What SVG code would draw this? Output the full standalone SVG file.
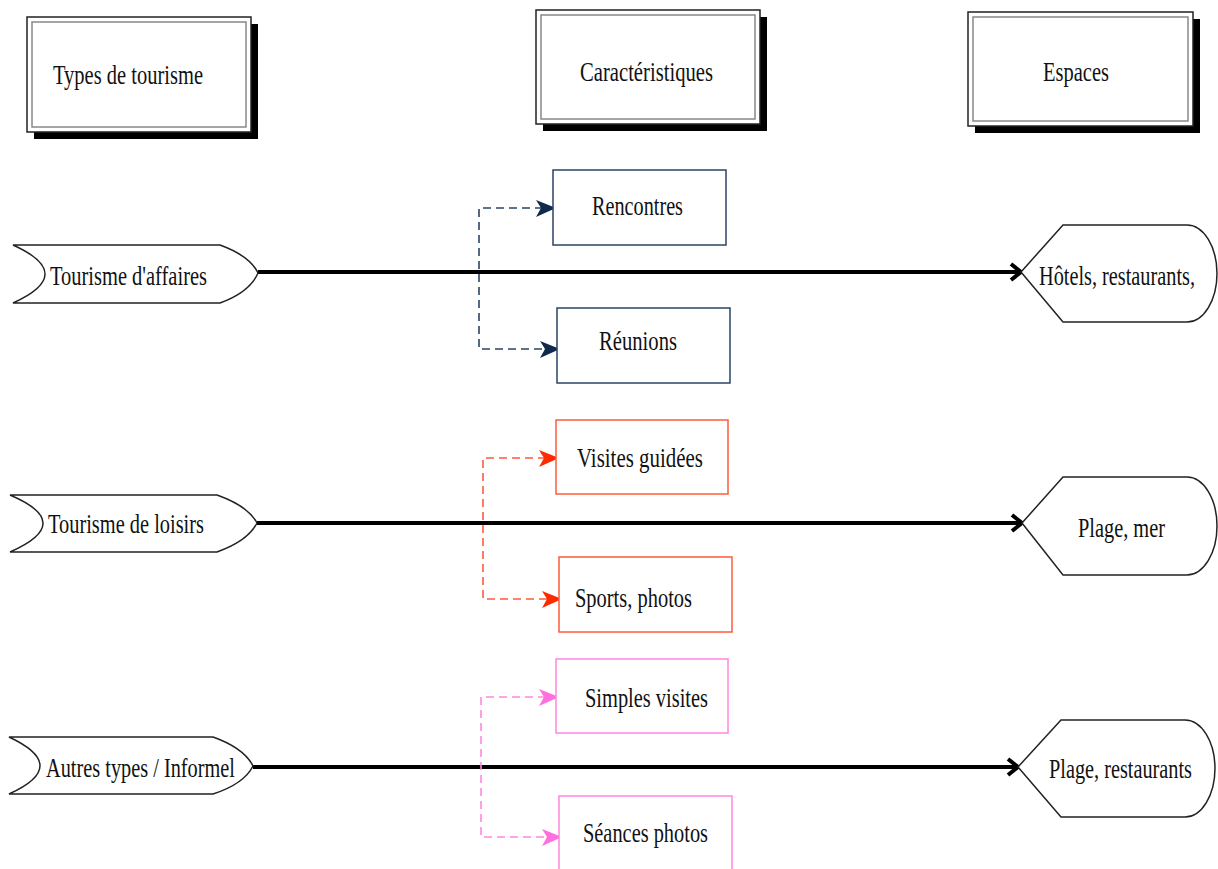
<svg xmlns="http://www.w3.org/2000/svg" width="1218" height="869" viewBox="0 0 1218 869">
<style>
.t{font-family:'Liberation Serif','Times New Roman',serif;font-size:27px;fill:#111}
.shadow{fill:#000}
.outer{fill:#fff;stroke:#222;stroke-width:1.5}
.inner{fill:none;stroke:#888;stroke-width:1.5}
.shape{fill:#fff;stroke:#222;stroke-width:1.5}
.main{stroke:#000;stroke-width:4;fill:none}
.dash{fill:none;stroke-width:1.6;stroke-dasharray:8 5}
.navy{stroke:#2A4566}
.red{stroke:#FF5A3C}
.pink{stroke:#FF88E0}
.box{fill:#fff;stroke-width:1.5}
</style>
<defs>
<marker id="chev" markerUnits="userSpaceOnUse" markerWidth="20" markerHeight="24" refX="12" refY="10" orient="auto" overflow="visible">
<path d="M2,2 L12,10 L2,18" fill="none" stroke="#000" stroke-width="4"/>
</marker>
<marker id="aNavy" markerUnits="userSpaceOnUse" markerWidth="22" markerHeight="18" refX="20" refY="8" orient="auto-start-reverse" overflow="visible">
<path d="M0,0 L20,8 L0,17 L5,8 Z" fill="#0F2A4A"/>
</marker>
<marker id="aRed" markerUnits="userSpaceOnUse" markerWidth="22" markerHeight="18" refX="20" refY="8" orient="auto-start-reverse" overflow="visible">
<path d="M0,0 L20,8 L0,17 L5,8 Z" fill="#FF2A00"/>
</marker>
<marker id="aPink" markerUnits="userSpaceOnUse" markerWidth="22" markerHeight="18" refX="20" refY="8" orient="auto-start-reverse" overflow="visible">
<path d="M0,0 L20,8 L0,17 L5,8 Z" fill="#FF70DC"/>
</marker>
</defs>
<rect width="1218" height="869" fill="#fff"/>

<g id="connectors">
<path class="main" d="M258,272 H1021" marker-end="url(#chev)"/>
<path class="main" d="M257,523 H1022" marker-end="url(#chev)"/>
<path class="main" d="M253,767 H1018" marker-end="url(#chev)"/>
<path class="dash navy" d="M556,208 H479 V349 H560" marker-start="url(#aNavy)" marker-end="url(#aNavy)"/>
<path class="dash red" d="M559,458 H483 V599 H562" marker-start="url(#aRed)" marker-end="url(#aRed)"/>
<path class="dash pink" d="M559,697 H481 V837 H562" marker-start="url(#aPink)" marker-end="url(#aPink)"/>
</g>

<g id="h-types">
<rect class="shadow" x="34" y="24" width="224" height="115"/>
<rect class="outer" x="27" y="17" width="224" height="115"/>
<rect class="inner" x="32" y="22" width="214" height="105"/>
<text class="t" x="53" y="84" textLength="150" lengthAdjust="spacingAndGlyphs">Types de tourisme</text>
</g>
<g id="h-carac">
<rect class="shadow" x="543" y="17" width="224" height="114"/>
<rect class="outer" x="536" y="10" width="224" height="114"/>
<rect class="inner" x="541" y="15" width="214" height="104"/>
<text class="t" x="580" y="81" textLength="133" lengthAdjust="spacingAndGlyphs">Caractéristiques</text>
</g>
<g id="h-espaces">
<rect class="shadow" x="975" y="19" width="225" height="114"/>
<rect class="outer" x="968" y="12" width="225" height="114"/>
<rect class="inner" x="973" y="17" width="215" height="104"/>
<text class="t" x="1043" y="81" textLength="66" lengthAdjust="spacingAndGlyphs">Espaces</text>
</g>

<g id="t-affaires">
<path class="shape" d="M13,245 L220,245 Q250,256 258,273 Q250,292 220,303 L13,303 Q77,274 13,245 Z"/>
<text class="t" x="50" y="285" textLength="157" lengthAdjust="spacingAndGlyphs">Tourisme d'affaires</text>
</g>
<g id="t-loisirs">
<path class="shape" d="M10,495 L217,495 Q248,506 257,523 Q248,541 217,552 L10,552 Q76,523 10,495 Z"/>
<text class="t" x="48" y="533" textLength="156" lengthAdjust="spacingAndGlyphs">Tourisme de loisirs</text>
</g>
<g id="t-autres">
<path class="shape" d="M9,737 L213,737 Q244,748 253,766 Q244,784 213,794 L9,794 Q71,766 9,737 Z"/>
<text class="t" x="46" y="777" textLength="189" lengthAdjust="spacingAndGlyphs">Autres types / Informel</text>
</g>

<g id="c-rencontres">
<rect class="box navy" x="553" y="170" width="173" height="75"/>
<text class="t" x="592" y="215" textLength="91" lengthAdjust="spacingAndGlyphs">Rencontres</text>
</g>
<g id="c-reunions">
<rect class="box navy" x="557" y="308" width="173" height="75"/>
<text class="t" x="599" y="350" textLength="78" lengthAdjust="spacingAndGlyphs">Réunions</text>
</g>
<g id="c-visites">
<rect class="box red" x="556" y="420" width="172" height="74"/>
<text class="t" x="577" y="467" textLength="126" lengthAdjust="spacingAndGlyphs">Visites guidées</text>
</g>
<g id="c-sports">
<rect class="box red" x="559" y="557" width="173" height="75"/>
<text class="t" x="575" y="607" textLength="117" lengthAdjust="spacingAndGlyphs">Sports, photos</text>
</g>
<g id="c-simples">
<rect class="box pink" x="556" y="659" width="172" height="74"/>
<text class="t" x="585" y="707" textLength="123" lengthAdjust="spacingAndGlyphs">Simples visites</text>
</g>
<g id="c-seances">
<rect class="box pink" x="559" y="796" width="173" height="80"/>
<text class="t" x="583" y="842" textLength="125" lengthAdjust="spacingAndGlyphs">Séances photos</text>
</g>

<g id="e-hotels">
<path class="shape" d="M1021,272 L1063,225 L1187,225 A30,48.5 0 0 1 1187,322 L1063,322 Z"/>
<text class="t" x="1039" y="285" textLength="156" lengthAdjust="spacingAndGlyphs">Hôtels, restaurants,</text>
</g>
<g id="e-plage-mer">
<path class="shape" d="M1022,523 L1063,477 L1187,477 A30,49 0 0 1 1187,575 L1063,575 Z"/>
<text class="t" x="1078" y="537" textLength="87" lengthAdjust="spacingAndGlyphs">Plage, mer</text>
</g>
<g id="e-plage-rest">
<path class="shape" d="M1018,767 L1061,720 L1185,720 A30,48.5 0 0 1 1185,817 L1061,817 Z"/>
<text class="t" x="1049" y="778" textLength="143" lengthAdjust="spacingAndGlyphs">Plage, restaurants</text>
</g>
</svg>
